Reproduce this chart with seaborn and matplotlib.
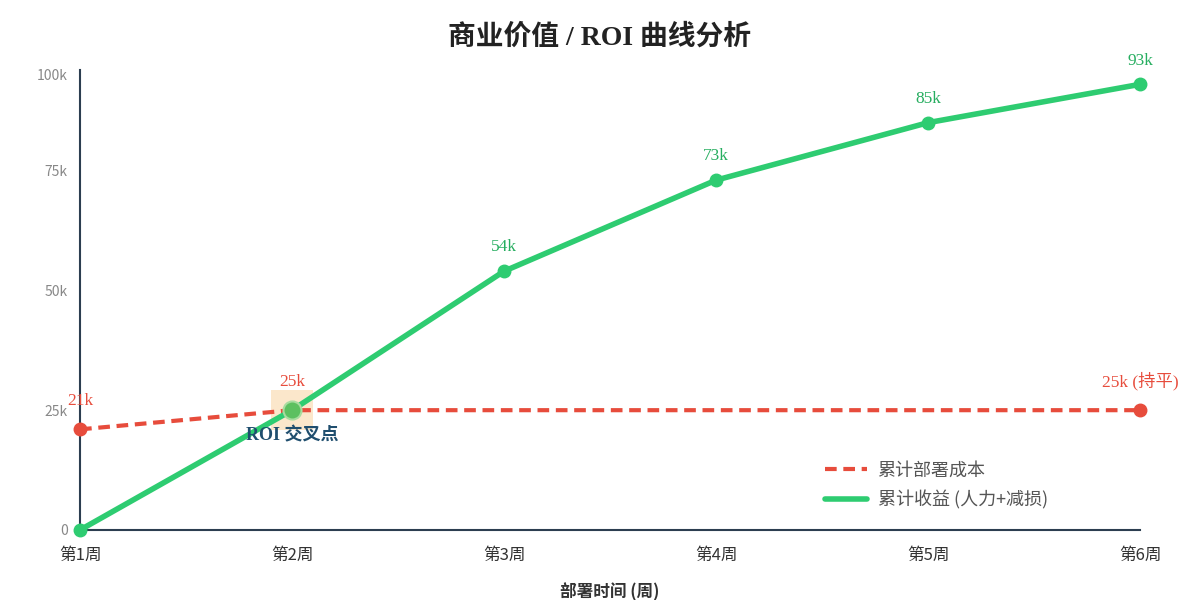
import numpy as np
import pandas as pd
import matplotlib.pyplot as plt
import matplotlib.patches as mpatches
import seaborn as sns

weeks = ["第1周", "第2周", "第3周", "第4周", "第5周", "第6周"]
cost = [21000, 25000, 25000, 25000, 25000, 25000]
revenue = [0, 25000, 54000, 73000, 85000, 93000]
cost_labels = ["21k", "25k", "", "", "", "25k (持平)"]
revenue_labels = ["", "", "54k", "73k", "85k", "93k"]
y_ticks = [0, 25000, 50000, 75000, 95000]
y_tick_labels = ["0", "25k", "50k", "75k", "100k"]

RED = "#e74c3c"
GREEN = "#2ecc71"
SANS = ["Noto Sans CJK SC", "DejaVu Sans"]
SERIF = ["Liberation Serif", "Noto Sans CJK SC"]


def main():
    sns.set_theme(style="white")
    plt.rcParams["font.family"] = SANS

    df = pd.DataFrame({"week": weeks, "x": range(len(weeks)), "cost": cost, "revenue": revenue})

    fig = plt.figure(figsize=(12, 6), dpi=100)
    ax = fig.add_axes([0.0667, 0.1167, 0.8833, 0.7667])

    sns.lineplot(data=df, x="x", y="cost", ax=ax, color=RED, linewidth=3,
                 label="累计部署成本", zorder=3)
    ax.lines[-1].set_dashes([2.8, 1.6])
    ax.plot(df["x"].iloc[[0, 5]], df["cost"].iloc[[0, 5]], "o", color=RED, ms=9,
            zorder=4, clip_on=False)

    sns.lineplot(data=df, x="x", y="revenue", ax=ax, color=GREEN, linewidth=4,
                 label="累计收益 (人力+减损)", zorder=5)
    ax.plot(df["x"], df["revenue"], "o", color=GREEN, ms=9, zorder=6, clip_on=False)
    ax.plot(df["x"].iloc[[1]], df["revenue"].iloc[[1]], "o", color="#5cc060", ms=13,
            mec="#a8dca0", mew=1.5, zorder=7)

    # crossover highlight
    ax.add_patch(mpatches.Rectangle((0.9, 20800), 0.2, 8400, color="#fbe3c2",
                                    alpha=0.85, zorder=2, lw=0))
    ax.text(1, 21500, "ROI 交叉点", ha="center", va="top", fontsize=13,
            fontweight="bold", color="#1f4e6e", family=SERIF, zorder=8)

    for i, lab in enumerate(cost_labels):
        if lab:
            ax.text(df["x"][i], df["cost"][i] + 4200, lab, ha="center", va="bottom",
                    fontsize=12.5, color=RED, family=SERIF, zorder=8)
    for i, lab in enumerate(revenue_labels):
        if lab:
            ax.text(df["x"][i], df["revenue"][i] + 3300, lab, ha="center", va="bottom",
                    fontsize=12.5, color="#27ae60", family=SERIF, zorder=8)

    ax.set_xlim(0, 5)
    ax.set_ylim(0, 96000)
    ax.set_xticks(range(len(weeks)))
    ax.set_xticklabels(weeks, fontsize=12, color="#333333")
    ax.set_yticks(y_ticks)
    ax.set_yticklabels(y_tick_labels, fontsize=10, color="#888888")
    ax.tick_params(axis="y", length=0, pad=9)
    ax.tick_params(axis="x", length=0, pad=12)
    ax.set_ylabel("")
    ax.set_xlabel("部署时间 (周)", fontsize=12, fontweight="bold", color="#333333", labelpad=14)

    for s in ["top", "right"]:
        ax.spines[s].set_visible(False)
    for s in ["left", "bottom"]:
        ax.spines[s].set_color("#2c3e50")
        ax.spines[s].set_linewidth(1.5)
    ax.grid(False)

    ax.legend(loc="lower left", bbox_to_anchor=(0.703, 0.045), frameon=False,
              fontsize=13, handlelength=2.3, handletextpad=0.6, labelspacing=0.6,
              borderpad=0, borderaxespad=0, labelcolor="#555555")

    fig.suptitle("商业价值 / ROI 曲线分析", y=0.96, fontsize=20, fontweight="bold",
                 color="#222222", family=SERIF)
    fig.savefig("out.png", dpi=100, facecolor="white")


if __name__ == "__main__":
    main()
